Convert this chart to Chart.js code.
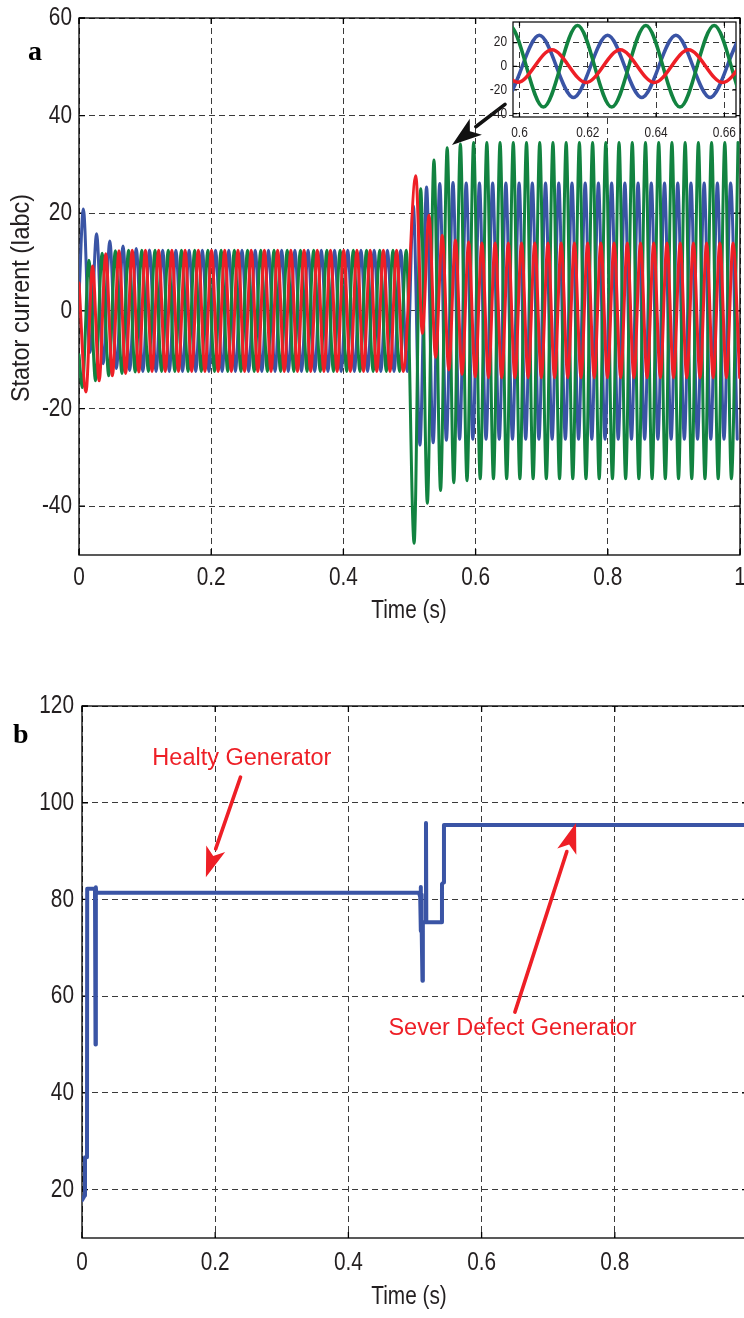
<!DOCTYPE html>
<html>
<head>
<meta charset="utf-8">
<script src="https://cdn.jsdelivr.net/npm/chart.js@4.4.1/dist/chart.umd.min.js"></script>
<style>
  body { margin: 0; background: #fff; width: 744px; height: 1318px; overflow: hidden; position: relative; }
  .pane { position: absolute; }
</style>
</head>
<body>
<div class="pane" style="left:0;top:0"><canvas id="stator" width="744" height="640"></canvas></div>
<div class="pane" style="left:460px;top:0"><canvas id="inset" width="284" height="150"></canvas></div>
<div class="pane" style="left:0;top:650px"><canvas id="condition" width="770" height="668"></canvas></div>
<script>
// ---- (a) stator currents: one peak/trough value every half cycle (50 Hz) ----
const HALF = 0.01;

const redInit = 5.7, blueInit = 3, greenInit = -9;   // values at t = 0

const redPreStart = 0.0105;
const redPre = [
  -16.6, 9.2, -14.3, 11.7, -13.3, 12.3, -12.8, 12.4, -12.5, 12.4,
  -12.4, 12.4, -12.4, 12.4, -12.4, 12.4, -12.4, 12.4, -12.4, 12.4,
  -12.4, 12.4, -12.4, 12.4, -12.4, 12.4, -12.4, 12.4, -12.4, 12.4,
  -12.4, 12.4, -12.4, 12.4, -12.4, 12.4, -12.4, 12.4, -12.4, 12.4,
  -12.4, 12.4, -12.4, 12.4, -12.4, 12.4, -12.4, 12.4, -12.4
];
const bluePreStart = 0.0066;
const bluePre = [
  20.9, -8.5, 15.8, -10.8, 14.3, -11.8, 13.3, -12.2, 12.8, -12.4,
  12.5, -12.4, 12.4, -12.4, 12.4, -12.4, 12.4, -12.4, 12.4, -12.4,
  12.4, -12.4, 12.4, -12.4, 12.4, -12.4, 12.4, -12.4, 12.4, -12.4,
  12.4, -12.4, 12.4, -12.4, 12.4, -12.4, 12.4, -12.4, 12.4, -12.4,
  12.4, -12.4, 12.4, -12.4, 12.4, -12.4, 12.4, -12.4, 12.4, -12.4
];
const greenPreStart = 0.005;
const greenPre = [
  -15.7, 10.4, -14.3, 11.8, -13.3, 12.3, -12.8, 12.4, -12.5, 12.4,
  -12.4, 12.4, -12.4, 12.4, -12.4, 12.4, -12.4, 12.4, -12.4, 12.4,
  -12.4, 12.4, -12.4, 12.4, -12.4, 12.4, -12.4, 12.4, -12.4, 12.4,
  -12.4, 12.4, -12.4, 12.4, -12.4, 12.4, -12.4, 12.4, -12.4, 12.4,
  -12.4, 12.4, -12.4, 12.4, -12.4, 12.4, -12.4, 12.4, -12.4, 12.4
];

// after the fault at t = 0.5
const redPostStart = 0.5095;
const redPost = [
  27.7, -4.6, 19.6, -9.5, 15.5, -12.1, 14.5, -13.0, 14.1, -13.5,
  13.9, -13.7, 13.9, -13.7, 13.9, -13.7, 13.9, -13.7, 13.9, -13.7,
  13.9, -13.7, 13.9, -13.7, 13.9, -13.7, 13.9, -13.7, 13.9, -13.7,
  13.9, -13.7, 13.9, -13.7, 13.9, -13.7, 13.9, -13.7, 13.9, -13.7,
  13.9, -13.7, 13.9, -13.7, 13.9, -13.7, 13.9, -13.7, 13.9, -13.7
];
const bluePostStart = 0.5058;
const bluePost = [
  21.5, -27.5, 25.4, -27.0, 26.1, -26.5, 26.3, -26.3, 26.2, -26.3,
  26.2, -26.3, 26.2, -26.3, 26.2, -26.3, 26.2, -26.3, 26.2, -26.3,
  26.2, -26.3, 26.2, -26.3, 26.2, -26.3, 26.2, -26.3, 26.2, -26.3,
  26.2, -26.3, 26.2, -26.3, 26.2, -26.3, 26.2, -26.3, 26.2, -26.3,
  26.2, -26.3, 26.2, -26.3, 26.2, -26.3, 26.2, -26.3, 26.2, -26.3
];
const greenPostStart = 0.5070;
const greenPost = [
  -47.6, 25.0, -39.4, 30.9, -36.8, 33.4, -35.2, 34.2, -34.8, 34.5,
  -34.4, 34.5, -34.4, 34.5, -34.4, 34.5, -34.4, 34.5, -34.4, 34.5,
  -34.4, 34.5, -34.4, 34.5, -34.4, 34.5, -34.4, 34.5, -34.4, 34.5,
  -34.4, 34.5, -34.4, 34.5, -34.4, 34.5, -34.4, 34.5, -34.4, 34.5,
  -34.4, 34.5, -34.4, 34.5, -34.4, 34.5, -34.4, 34.5, -34.4, 34.5
];

const timeTicks = [0, 0.2, 0.4, 0.6, 0.8, 1];
const currentTicks = [-40, -20, 0, 20, 40, 60];
const insetTimeTicks = [0.6, 0.62, 0.64, 0.66];
const insetCurrentTicks = [-40, -20, 0, 20];

// ---- (b) generator condition (step trace) ----
const condTime = [0, 0.004, 0.0045, 0.0075, 0.0078, 0.0195, 0.0203, 0.0208, 0.0213, 0.0225,
  0.506, 0.5078, 0.5085, 0.509, 0.5095, 0.510, 0.5112, 0.5118, 0.5122, 0.5160, 0.5165, 0.5170,
  0.540, 0.5405, 0.5430, 0.5435, 1];
const condValue = [17.8, 18.8, 26.7, 26.7, 82.2, 82.2, 50, 82.5, 81.4, 81.4,
  81.4, 80.5, 82.6, 73.5, 81, 74, 63.2, 75.3, 75.3, 75.3, 95.8, 75.3,
  75.3, 83.2, 83.5, 95.4, 95.4];
const condTimeTicks = [0, 0.2, 0.4, 0.6, 0.8];
const condTicks = [20, 40, 60, 80, 100, 120];

const RED = '#ee1f26', BLUE = '#3a54a5', GREEN = '#128340', INK = '#231f20';
const SANS = '"Liberation Sans", Arial, sans-serif';

function extremes(t0, vals) {
  return vals.map((v, i) => ({ x: t0 + i * HALF, y: v }));
}
const redPts = [{ x: 0, y: redInit }, ...extremes(redPreStart, redPre), ...extremes(redPostStart, redPost)];
const bluePts = [{ x: 0, y: blueInit }, ...extremes(bluePreStart, bluePre), ...extremes(bluePostStart, bluePost)];
const greenPts = [{ x: 0, y: greenInit }, ...extremes(greenPreStart, greenPre), ...extremes(greenPostStart, greenPost)];

function phaseSets(width) {
  const mk = (label, data, color) => ({
    label, data, borderColor: color, borderWidth: width, pointRadius: 0,
    cubicInterpolationMode: 'monotone', borderJoinStyle: 'round', borderCapStyle: 'round', clip: 0
  });
  // first dataset is drawn on top
  return [mk('Ic', redPts, RED), mk('Ib', greenPts, GREEN), mk('Ia', bluePts, BLUE)];
}

// box around the plot with inward tick marks, like a MATLAB axes
const frame = {
  id: 'frame',
  beforeDatasetsDraw(chart, args, opts) {
    const { ctx, chartArea: a, scales: { x, y } } = chart;
    ctx.save();
    ctx.strokeStyle = '#000';
    ctx.lineWidth = opts.width || 1.3;
    ctx.strokeRect(a.left, a.top, a.right - a.left, a.bottom - a.top);
    const len = opts.tick || 6;
    ctx.beginPath();
    x.ticks.forEach(t => {
      const px = x.getPixelForValue(t.value);
      ctx.moveTo(px, a.bottom); ctx.lineTo(px, a.bottom - len);
      ctx.moveTo(px, a.top); ctx.lineTo(px, a.top + len);
    });
    y.ticks.forEach(t => {
      const py = y.getPixelForValue(t.value);
      ctx.moveTo(a.left, py); ctx.lineTo(a.left + len, py);
      ctx.moveTo(a.right, py); ctx.lineTo(a.right - len, py);
    });
    ctx.stroke();
    ctx.restore();
  }
};

const whiteArea = {
  id: 'whiteArea',
  beforeDraw(chart) {
    const { ctx, chartArea: a } = chart;
    ctx.save();
    ctx.fillStyle = '#fff';
    ctx.fillRect(a.left, a.top, a.right - a.left, a.bottom - a.top);
    ctx.restore();
  }
};

// tick labels and axis titles in a condensed face (Helvetica-narrow look)
const axisText = {
  id: 'axisText',
  afterDraw(chart, args, o) {
    const { ctx, chartArea: a, scales: { x, y } } = chart;
    const put = (text, px, py, rot, sq) => {
      ctx.save();
      ctx.translate(px, py);
      if (rot) ctx.rotate(rot);
      ctx.scale(sq || o.squeeze, 1);
      ctx.fillText(text, 0, 0);
      ctx.restore();
    };
    ctx.save();
    ctx.font = o.size + 'px ' + SANS;
    ctx.fillStyle = INK;
    ctx.textBaseline = 'middle';
    ctx.textAlign = 'center';
    o.xLabels.forEach(v => put(String(v), x.getPixelForValue(v), a.bottom + o.xGap));
    if (o.xTitle) put(o.xTitle, o.xTitleX, a.bottom + o.xTitleGap);
    if (o.yTitle) put(o.yTitle, o.yTitleX, o.yTitleY, -Math.PI / 2, o.yTitleSqueeze);
    ctx.textAlign = 'right';
    o.yLabels.forEach(v => put(String(v), a.left - o.yGap, y.getPixelForValue(v)));
    ctx.restore();
  }
};

function arrow(ctx, x1, y1, x2, y2, color, w, headLen, headHalf) {
  const ang = Math.atan2(y2 - y1, x2 - x1);
  const bx = x2 - headLen * Math.cos(ang), by = y2 - headLen * Math.sin(ang);
  ctx.save();
  ctx.strokeStyle = color; ctx.fillStyle = color; ctx.lineWidth = w; ctx.lineCap = 'round';
  ctx.beginPath(); ctx.moveTo(x1, y1); ctx.lineTo(bx, by); ctx.stroke();
  ctx.beginPath();
  ctx.moveTo(x2, y2);
  ctx.lineTo(bx + headHalf * Math.sin(ang), by - headHalf * Math.cos(ang));
  ctx.lineTo(bx + 0.25 * headLen * Math.cos(ang), by + 0.25 * headLen * Math.sin(ang));
  ctx.lineTo(bx - headHalf * Math.sin(ang), by + headHalf * Math.cos(ang));
  ctx.closePath(); ctx.fill();
  ctx.restore();
}

// text and arrows placed in data coordinates
const notes = {
  id: 'notes',
  afterDraw(chart, args, opts) {
    const { ctx, scales: { x, y } } = chart;
    (opts.arrows || []).forEach(a => {
      arrow(ctx, x.getPixelForValue(a.from[0]), y.getPixelForValue(a.from[1]),
        x.getPixelForValue(a.to[0]), y.getPixelForValue(a.to[1]), a.color, 3.6, 30, 10);
    });
    (opts.texts || []).forEach(t => {
      ctx.save();
      ctx.font = t.font; ctx.fillStyle = t.color;
      ctx.textAlign = 'center'; ctx.textBaseline = 'middle';
      ctx.fillText(t.text, x.getPixelForValue(t.at[0]), y.getPixelForValue(t.at[1]));
      ctx.restore();
    });
    if (opts.tag) {
      ctx.save();
      ctx.font = 'bold 28px "Liberation Serif", serif';
      ctx.fillStyle = '#000';
      ctx.fillText(opts.tag.text, opts.tag.left, opts.tag.base);
      ctx.restore();
    }
  }
};

const fixTicks = list => scale => { scale.ticks = list.map(v => ({ value: v })); };
const noPad = s => { s.paddingLeft = s.paddingRight = s.paddingTop = s.paddingBottom = 0; };

function axisX(min, max, ticks, axisH) {
  return {
    type: 'linear', min, max,
    afterBuildTicks: fixTicks(ticks),
    afterFit: s => { s.height = axisH; noPad(s); },
    grid: { color: '#3a3a3a', lineWidth: 1, drawTicks: false },
    border: { display: false, dash: [6, 4] },
    ticks: { display: false }
  };
}
function axisY(min, max, ticks, axisW) {
  return {
    min, max,
    afterBuildTicks: fixTicks(ticks),
    afterFit: s => { s.width = axisW; noPad(s); },
    grid: { color: '#3a3a3a', lineWidth: 1, drawTicks: false },
    border: { display: false, dash: [6, 4] },
    ticks: { display: false }
  };
}

const common = {
  responsive: false, animation: false, events: [],
  plugins: { legend: { display: false }, tooltip: { enabled: false } }
};

// (a) main current plot
new Chart(document.getElementById('stator'), {
  type: 'line',
  data: { datasets: phaseSets(3) },
  options: {
    ...common,
    layout: { padding: { left: 0, right: 4, top: 18, bottom: 0 } },
    scales: {
      x: axisX(0, 1, timeTicks, 85),
      y: axisY(-50, 60, currentTicks, 79)
    },
    plugins: {
      ...common.plugins,
      frame: {},
      axisText: {
        size: 26, squeeze: 0.8,
        xLabels: timeTicks, xGap: 23,
        yLabels: currentTicks, yGap: 7,
        xTitle: 'Time (s)', xTitleX: 409, xTitleGap: 56,
        yTitle: 'Stator current (Iabc)', yTitleX: 22, yTitleY: 298, yTitleSqueeze: 0.9
      },
      notes: {
        arrows: [{ from: [0.6445, 42.3], to: [0.5643, 34.0], color: '#111' }],
        tag: { text: 'a', left: 28, base: 60 }
      }
    }
  },
  plugins: [frame, axisText, notes]
});

// zoomed view of a few cycles after the fault
new Chart(document.getElementById('inset'), {
  type: 'line',
  data: { datasets: phaseSets(3.5) },
  options: {
    ...common,
    layout: { padding: { left: 0, right: 8, top: 22, bottom: 0 } },
    scales: {
      x: axisX(0.5981, 0.6634, insetTimeTicks, 33),
      y: axisY(-42.8, 37.4, insetCurrentTicks, 53)
    },
    plugins: {
      ...common.plugins,
      frame: { tick: 4, width: 1.2 },
      axisText: {
        size: 14, squeeze: 0.85,
        xLabels: insetTimeTicks, xGap: 16,
        yLabels: insetCurrentTicks, yGap: 6
      }
    }
  },
  plugins: [whiteArea, frame, axisText]
});

// (b) generator condition
new Chart(document.getElementById('condition'), {
  type: 'line',
  data: {
    datasets: [{
      label: 'Condition',
      data: condTime.map((t, i) => ({ x: t, y: condValue[i] })),
      borderColor: BLUE, borderWidth: 4, pointRadius: 0, tension: 0,
      borderJoinStyle: 'round', borderCapStyle: 'round', clip: 0
    }]
  },
  options: {
    ...common,
    layout: { padding: { left: 0, right: 22, top: 56, bottom: 0 } },
    scales: {
      x: axisX(0, 1, timeTicks, 80),
      y: axisY(10, 120, condTicks, 82)
    },
    plugins: {
      ...common.plugins,
      frame: {},
      axisText: {
        size: 26, squeeze: 0.8,
        xLabels: condTimeTicks, xGap: 25,
        yLabels: condTicks, yGap: 8,
        xTitle: 'Time (s)', xTitleX: 409, xTitleGap: 59,
        yTitle: 'Generator Condition', yTitleX: 12, yTitleY: 970, yTitleSqueeze: 0.9
      },
      notes: {
        arrows: [
          { from: [0.238, 105.3], to: [0.186, 84.6], color: RED },
          { from: [0.650, 56.7], to: [0.7418, 95.8], color: RED }
        ],
        texts: [
          { text: 'Healty Generator', at: [0.24, 109.2], color: RED, font: '23.5px ' + SANS },
          { text: 'Sever Defect Generator', at: [0.6464, 53.3], color: RED, font: '23.5px ' + SANS }
        ],
        tag: { text: 'b', left: 13, base: 93 }
      }
    }
  },
  plugins: [frame, axisText, notes]
});
</script>
</body>
</html>
